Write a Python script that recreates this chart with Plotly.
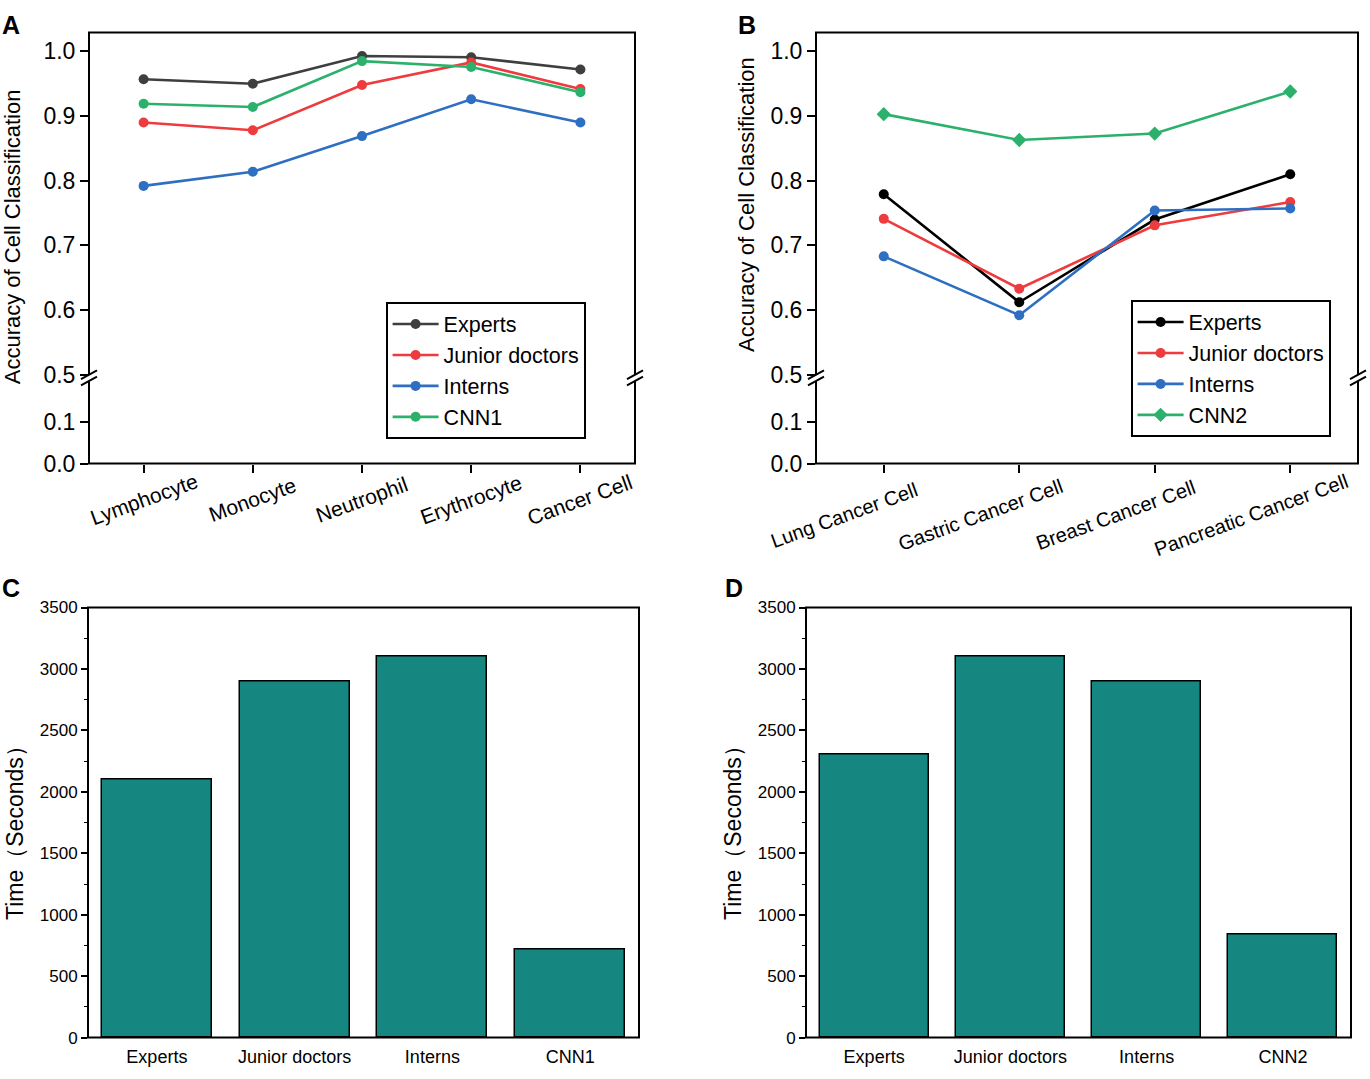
import plotly.graph_objects as go

W, H = 1370, 1079
def px(x): return x / W
def py(y): return 1 - y / H

FONT = "Liberation Sans, Arial, sans-serif"

# ---------------- data ----------------
cells_a = ["Lymphocyte", "Monocyte", "Neutrophil", "Erythrocyte", "Cancer Cell"]
experts_a = [0.957, 0.950, 0.993, 0.991, 0.972]
junior_a = [0.890, 0.878, 0.948, 0.983, 0.942]
interns_a = [0.792, 0.814, 0.869, 0.926, 0.890]
cnn1_a = [0.919, 0.914, 0.985, 0.976, 0.937]

cells_b = ["Lung Cancer Cell", "Gastric Cancer Cell", "Breast Cancer Cell", "Pancreatic Cancer Cell"]
experts_b = [0.779, 0.612, 0.740, 0.810]
junior_b = [0.741, 0.633, 0.731, 0.767]
interns_b = [0.683, 0.592, 0.754, 0.757]
cnn2_b = [0.903, 0.863, 0.873, 0.938]

groups_c = ["Experts", "Junior doctors", "Interns", "CNN1"]
time_c = [2100, 2900, 3100, 720]
groups_d = ["Experts", "Junior doctors", "Interns", "CNN2"]
time_d = [2300, 3100, 2900, 840]

upper_ticks = [0.5, 0.6, 0.7, 0.8, 0.9, 1.0]
lower_ticks = [0.0, 0.1]
time_ticks = [0, 500, 1000, 1500, 2000, 2500, 3000, 3500]

GRAY = "#3f3f3f"
BLACK = "#000000"
RED = "#ee3b3e"
BLUE = "#2f6fc2"
GREEN = "#2bb16b"
TEAL = "#168680"

fig = go.Figure()

def line_trace(x, y, name, color, xa, ya, legend, symbol="circle"):
    fig.add_trace(go.Scatter(
        x=x, y=y, name=name, mode="lines+markers",
        line=dict(color=color, width=2.6),
        marker=dict(color=color, size=10 if symbol == "circle" else 11, symbol=symbol),
        xaxis=xa, yaxis=ya, legend=legend))

line_trace(cells_a, experts_a, "Experts", GRAY, "x", "y2", "legend")
line_trace(cells_a, junior_a, "Junior doctors", RED, "x", "y2", "legend")
line_trace(cells_a, interns_a, "Interns", BLUE, "x", "y2", "legend")
line_trace(cells_a, cnn1_a, "CNN1", GREEN, "x", "y2", "legend")

line_trace(cells_b, experts_b, "Experts", BLACK, "x3", "y4", "legend2")
line_trace(cells_b, junior_b, "Junior doctors", RED, "x3", "y4", "legend2")
line_trace(cells_b, interns_b, "Interns", BLUE, "x3", "y4", "legend2")
line_trace(cells_b, cnn2_b, "CNN2", GREEN, "x3", "y4", "legend2", symbol="diamond")

# the lower (0-0.2) segment of each broken axis: same data, clipped away (all values > 0.2)
for xa, ya, cats, vals in (("x", "y", cells_a, experts_a), ("x3", "y3", cells_b, experts_b)):
    fig.add_trace(go.Scatter(x=cats, y=vals, mode="lines", line=dict(color="rgba(0,0,0,0)"),
                             xaxis=xa, yaxis=ya, showlegend=False, hoverinfo="skip"))

fig.add_trace(go.Bar(x=groups_c, y=time_c, width=0.8, marker=dict(color=TEAL, line=dict(color="black", width=1.5)),
                     xaxis="x5", yaxis="y5", showlegend=False))
fig.add_trace(go.Bar(x=groups_d, y=time_d, width=0.8, marker=dict(color=TEAL, line=dict(color="black", width=1.5)),
                     xaxis="x6", yaxis="y6", showlegend=False))

tickfont_ab = dict(family=FONT, size=23, color="black")
tickfont_cd = dict(family=FONT, size=17, color="black")
catfont_cd = dict(family=FONT, size=18, color="black")

# panel geometry (pixels)
A = dict(l=89, r=635, t=24, b=464, brk_top=373.3, brk_bot=379, top_tick=43.3)
B = dict(l=816, r=1358, t=24, b=464, brk_top=373.3, brk_bot=379, top_tick=43.3)
C = dict(l=88, r=639, t=611, b=1050)
D = dict(l=806, r=1351, t=611, b=1050)

def yax_common(**kw):
    d = dict(ticks="outside", ticklen=8, tickwidth=2, tickcolor="black",
             showgrid=False, zeroline=False, showline=False, tickfont=tickfont_ab)
    d.update(kw)
    return d

def xax_line(**kw):
    d = dict(ticks="outside", ticklen=8, tickwidth=2, tickcolor="black", showgrid=False,
             zeroline=False, showline=False, showticklabels=False, type="category")
    d.update(kw)
    return d

upper_top_val = 0.5 + 0.5 * (A["brk_top"] - A["t"]) / (A["brk_top"] - A["top_tick"])
lower_top_val = 0.1 * (A["b"] - A["brk_bot"]) / (464 - 421.7)

def time_y(P, anchor):
    return dict(domain=[py(P["b"]), py(P["t"])], anchor=anchor, range=[0, 3500], tickvals=time_ticks,
                ticks="outside", ticklen=6, tickwidth=1.5, tickcolor="black", showgrid=False,
                zeroline=False, tickfont=tickfont_cd,
                minor=dict(ticks="outside", ticklen=3, tickwidth=1.2, dtick=250, tickcolor="black"))

fig.update_layout(
    width=W, height=H, margin=dict(l=0, r=0, t=0, b=0),
    paper_bgcolor="white", plot_bgcolor="white",
    font=dict(family=FONT, color="black"),
    bargap=0,
    xaxis=xax_line(domain=[px(A["l"]), px(A["r"])], anchor="y", range=[-0.5, 4.5],
                   categoryorder="array", categoryarray=cells_a),
    yaxis=yax_common(domain=[py(A["b"]), py(A["brk_bot"])], anchor="x", range=[0, lower_top_val],
                     tickvals=lower_ticks, ticktext=["%.1f" % v for v in lower_ticks]),
    yaxis2=yax_common(domain=[py(A["brk_top"]), py(A["t"])], anchor="x", range=[0.5, upper_top_val],
                      tickvals=upper_ticks, ticktext=["%.1f" % v for v in upper_ticks]),
    xaxis3=xax_line(domain=[px(B["l"]), px(B["r"])], anchor="y3", range=[-0.5, 3.5],
                    categoryorder="array", categoryarray=cells_b),
    yaxis3=yax_common(domain=[py(B["b"]), py(B["brk_bot"])], anchor="x3", range=[0, lower_top_val],
                      tickvals=lower_ticks, ticktext=["%.1f" % v for v in lower_ticks]),
    yaxis4=yax_common(domain=[py(B["brk_top"]), py(B["t"])], anchor="x3", range=[0.5, upper_top_val],
                      tickvals=upper_ticks, ticktext=["%.1f" % v for v in upper_ticks]),
    xaxis5=dict(domain=[px(C["l"]), px(C["r"])], anchor="y5", range=[-0.5, 3.5], type="category",
                ticks="", showgrid=False, zeroline=False, tickfont=catfont_cd, ticklabelstandoff=6),
    yaxis5=time_y(C, "x5"),
    xaxis6=dict(domain=[px(D["l"]), px(D["r"])], anchor="y6", range=[-0.5, 3.5], type="category",
                ticks="", showgrid=False, zeroline=False, tickfont=catfont_cd, ticklabelstandoff=6),
    yaxis6=time_y(D, "x6"),
    legend=dict(x=px(386), y=py(299), xanchor="left", yanchor="top", bgcolor="white",
                bordercolor="black", borderwidth=1.6, font=dict(family=FONT, size=21.5, color="black"),
                tracegroupgap=0, itemwidth=46),
    legend2=dict(x=px(1131), y=py(297), xanchor="left", yanchor="top", bgcolor="white",
                 bordercolor="black", borderwidth=1.6, font=dict(family=FONT, size=21.5, color="black"),
                 tracegroupgap=0, itemwidth=46),
)

shapes = []
for P in (A, B, C, D):
    shapes.append(dict(type="rect", xref="paper", yref="paper",
                       x0=px(P["l"]), x1=px(P["r"]), y0=py(P["b"]), y1=py(P["t"]),
                       line=dict(color="black", width=2), fillcolor="rgba(0,0,0,0)", layer="above"))

def break_mark(xc, yc):
    dx, dy, g = 8, 4.5, 3.2
    pts = [(xc - dx, yc - g + dy), (xc + dx, yc - g - dy), (xc + dx, yc + g - dy), (xc - dx, yc + g + dy)]
    path = "M " + " L ".join("%f,%f" % (px(a), py(b)) for a, b in pts) + " Z"
    shapes.append(dict(type="path", xref="paper", yref="paper", path=path,
                       fillcolor="white", line=dict(width=0), layer="above"))
    for s in (-g, g):
        shapes.append(dict(type="line", xref="paper", yref="paper",
                           x0=px(xc - dx), y0=py(yc + s + dy), x1=px(xc + dx), y1=py(yc + s - dy),
                           line=dict(color="black", width=2), layer="above"))

for P in (A, B):
    yc = 376.5
    break_mark(P["l"], yc)
    break_mark(P["r"], yc)

annotations = []
for c in cells_a:
    annotations.append(dict(x=c, xref="x", y=py(501), yref="paper", text=c, showarrow=False,
                            textangle=-20, xanchor="center", yanchor="middle",
                            font=dict(family=FONT, size=21, color="black")))
for c in cells_b:
    annotations.append(dict(x=c, xref="x3", y=py(517), yref="paper", text=c, showarrow=False,
                            textangle=-20, xanchor="center", yanchor="middle", xshift=-39,
                            font=dict(family=FONT, size=20, color="black")))

title_font = dict(family=FONT, size=22, color="black")
annotations.append(dict(x=px(12), y=py(233), xref="paper", yref="paper", text="Accuracy of Cell Classification",
                        textangle=-90, showarrow=False, xanchor="center", yanchor="middle", font=title_font))
annotations.append(dict(x=px(747), y=py(200), xref="paper", yref="paper", text="Accuracy of Cell Classification",
                        textangle=-90, showarrow=False, xanchor="center", yanchor="middle", font=title_font))
annotations.append(dict(x=px(15), y=py(835), xref="paper", yref="paper", text="Time（Seconds）",
                        textangle=-90, showarrow=False, xanchor="center", yanchor="middle",
                        font=dict(family=FONT, size=23, color="black")))
annotations.append(dict(x=px(733), y=py(835), xref="paper", yref="paper", text="Time（Seconds）",
                        textangle=-90, showarrow=False, xanchor="center", yanchor="middle",
                        font=dict(family=FONT, size=23, color="black")))

letter_font = dict(family=FONT, size=25, color="black")
for txt, lx, ly in (("A", 11, 16), ("B", 747, 16), ("C", 11, 591), ("D", 734, 591)):
    annotations.append(dict(x=px(lx), y=py(ly), xref="paper", yref="paper", text="<b>%s</b>" % txt,
                            showarrow=False, xanchor="center", yanchor="middle", font=letter_font))

fig.update_layout(shapes=shapes, annotations=annotations)
fig.write_html("out.html", config={"displayModeBar": False},
               post_script="document.body.style.margin='0px';document.body.style.padding='0px';"
                           "document.documentElement.style.overflow='hidden';")
